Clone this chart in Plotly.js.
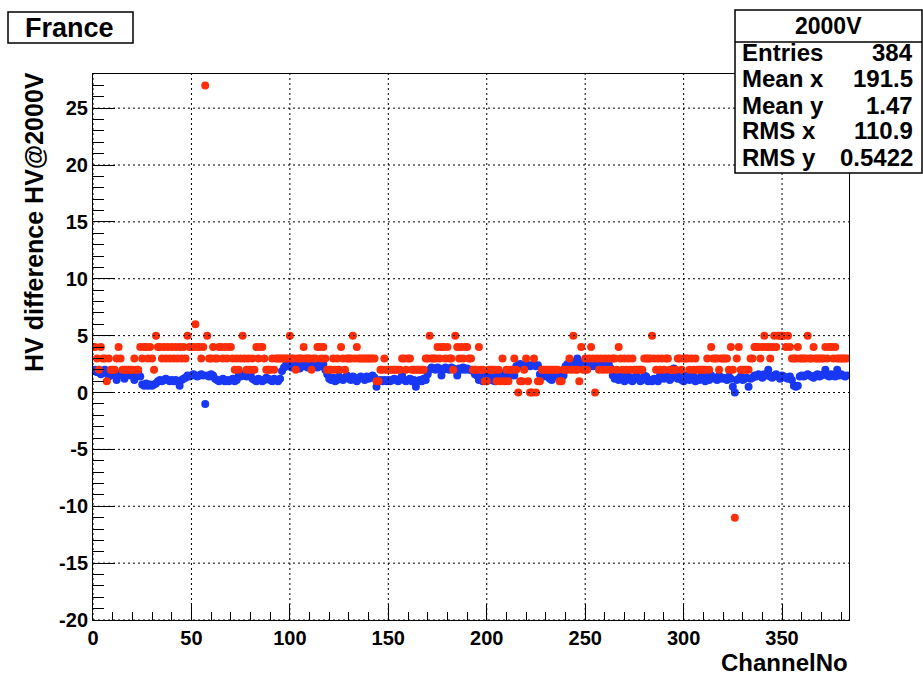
<!DOCTYPE html>
<html><head><meta charset="utf-8">
<script src="https://cdn.plot.ly/plotly-3.0.1.min.js"></script>
<style>html,body{margin:0;padding:0;background:#fff;} #chart{width:923px;height:677px;}</style>
</head><body><div id="chart"></div>
<script>
// HV difference (red series, integer steps) per channel
const redValues = [
4,4,3,2,4,3,3,1,3,2,
2,2,3,4,3,2,2,2,2,2,
2,3,2,2,4,3,4,4,3,4,
3,2,5,4,4,3,4,3,4,3,
4,3,4,3,4,3,4,3,5,4,
4,4,6,4,4,3,4,27,5,3,
3,4,3,3,4,4,3,4,3,4,
4,3,2,3,2,3,5,3,2,3,
2,3,2,4,3,4,4,3,2,2,
2,3,2,3,3,3,3,3,3,3,
5,3,3,2,3,3,3,4,3,3,
3,2,3,3,4,4,3,4,3,2,
2,2,3,2,3,2,4,3,2,3,
3,3,5,3,4,3,3,3,3,3,
3,3,3,3,1,1,2,2,3,2,
2,2,2,2,2,2,2,3,3,2,
3,3,2,2,2,2,2,2,2,3,
3,5,3,3,3,4,3,4,4,3,
4,3,3,2,5,4,3,4,3,4,
4,3,3,2,2,2,4,2,2,1,
1,2,2,2,2,1,2,1,3,1,
2,1,2,2,3,2,0,1,1,2,
3,1,0,0,3,0,1,1,2,2,
2,2,2,2,2,2,2,1,1,2,
2,2,3,2,5,2,2,1,4,2,
3,2,3,4,3,0,3,2,3,2,
3,2,3,2,3,3,2,4,3,2,
3,2,3,2,3,2,2,2,2,2,
3,3,3,3,5,3,2,3,2,3,
2,3,3,2,2,2,2,3,3,2,
3,3,3,2,3,2,3,2,2,2,
2,2,3,2,4,3,3,3,2,3,
3,3,3,2,4,2,-11,3,4,2,
2,2,2,2,3,3,4,4,4,3,
4,5,4,4,3,4,5,4,5,5,
5,5,4,5,4,3,3,3,4,3,
3,3,3,5,3,3,4,3,3,3,
3,3,4,3,4,4,3,4,3,3,
3,3,3,3
];
// HV difference (blue series) per channel
const blueValues = [
1.9,2.0,1.8,2.0,1.6,1.9,2.0,1.7,1.4,1.6,
1.7,1.5,1.1,1.6,1.7,1.5,1.2,1.6,1.7,1.5,
1.6,1.1,1.5,1.6,1.4,0.7,0.6,0.8,0.6,0.7,
0.6,0.7,0.8,1.0,1.1,1.0,1.1,1.2,1.1,1.0,
1.1,1.0,1.1,1.0,0.6,1.1,1.2,1.3,1.5,1.4,
1.5,1.6,1.5,1.4,1.5,1.6,1.5,-1.0,1.5,1.4,
1.6,1.5,1.2,1.1,1.0,1.1,1.2,1.0,1.1,1.0,
1.1,1.2,1.0,1.1,1.5,1.4,1.6,1.5,1.4,1.5,
1.6,1.2,1.1,1.0,1.2,1.1,1.0,1.1,1.3,1.2,
1.1,1.0,1.2,1.1,1.0,1.2,1.9,2.2,2.4,2.3,
2.5,2.2,2.4,2.3,2.5,2.1,2.4,2.3,2.5,2.2,
2.4,2.3,2.5,2.6,2.2,2.4,2.3,2.5,2.0,1.6,
1.2,1.1,1.3,1.0,1.1,1.4,1.2,1.1,1.3,1.5,
1.2,1.1,1.4,1.3,1.0,1.2,1.4,1.3,1.1,1.4,
1.2,1.3,1.5,1.3,0.5,1.0,1.1,1.0,1.1,1.0,
1.1,1.0,1.1,1.2,1.1,1.0,1.2,1.5,1.1,1.0,
1.1,1.2,1.0,1.1,0.5,1.0,1.1,1.0,1.2,1.1,
1.6,2.0,2.2,2.1,2.0,2.2,2.1,1.5,2.0,2.2,
2.1,2.0,2.2,2.1,2.0,1.5,2.1,2.0,2.2,2.0,
2.1,2.0,2.0,1.9,1.6,1.5,1.1,1.3,1.0,1.5,
1.7,1.4,1.1,1.3,1.0,1.5,1.6,1.2,1.4,1.7,
1.5,1.3,1.6,1.7,1.5,2.3,2.4,2.5,2.3,2.4,
2.5,2.4,2.3,2.4,2.5,2.3,2.4,1.6,1.5,1.4,
1.5,1.6,1.2,1.1,1.5,1.4,1.6,1.5,1.2,1.5,
2.3,2.5,2.4,2.2,2.6,2.7,3.0,2.5,2.6,2.4,
2.3,2.5,2.6,2.4,2.3,2.6,2.7,2.6,2.5,2.6,
2.7,2.6,2.5,2.1,1.5,1.2,1.4,1.1,1.3,1.5,
1.0,1.2,1.4,1.1,1.0,1.3,1.5,1.2,1.0,1.1,
1.5,1.4,1.0,1.1,1.0,1.2,1.1,1.0,1.5,1.3,
1.2,1.5,1.4,1.1,1.3,2.1,1.5,1.2,1.4,1.1,
1.0,1.5,1.3,1.1,1.5,1.4,1.0,1.2,1.1,1.5,
1.3,1.0,1.4,1.1,1.5,1.3,1.2,1.1,1.5,1.2,
1.3,1.2,1.1,1.4,1.2,0.5,0.0,1.1,1.2,1.4,
1.1,1.2,1.3,0.5,1.2,1.3,1.5,1.4,1.6,1.5,
1.3,1.6,1.5,2.0,1.4,1.3,1.5,1.6,1.4,1.2,
1.5,1.4,1.3,1.2,1.4,1.1,0.6,0.5,0.6,1.4,
1.5,1.4,1.5,1.6,1.5,1.4,1.3,1.5,1.6,1.4,
1.5,1.6,2.0,1.5,1.4,1.6,1.5,1.4,2.0,1.5,
1.6,1.5,1.4,1.5
];
const channels = redValues.map((_, i) => i);
const xTicks = [0, 50, 100, 150, 200, 250, 300, 350];
const yTicks = [-20, -15, -10, -5, 0, 5, 10, 15, 20, 25];
const statLabels = ["Entries", "Mean x", "Mean y", "RMS x", "RMS y"];
const statValues = ["384", "191.5", "1.47", "110.9", "0.5422"];
const statTitle = "2000V";
const chartTitle = "France";
const xTitle = "ChannelNo";
const yTitle = "HV difference HV@2000V";

const W = 923, H = 677, L = 93, R = 849, T = 74, B = 620;
const px = v => (v - L) / (R - L);
const py = v => (B - v) / (B - T);
const FONT = "Liberation Sans, Arial, Helvetica, sans-serif";
const tf = (s) => ({family: FONT, size: s, color: "black", weight: "bold"});

const traces = [
  {x: channels, y: blueValues, type: "scatter", mode: "markers",
   marker: {color: "#1838f5", size: 8, line: {width: 0}}, hoverinfo: "x+y", showlegend: false},
  {x: channels, y: redValues, type: "scatter", mode: "markers",
   marker: {color: "#ff2e08", size: 8, line: {width: 0}}, hoverinfo: "x+y", showlegend: false}
];

const shapes = [];
xTicks.forEach(t => shapes.push({type: "line", xref: "x", yref: "paper", x0: t, x1: t, y0: 0, y1: 1,
  line: {color: "black", width: 1, dash: "2px,3px"}, layer: "above"}));
yTicks.forEach(t => shapes.push({type: "line", xref: "paper", yref: "y", x0: 0, x1: 1, y0: t, y1: t,
  line: {color: "black", width: 1, dash: "2px,3px"}, layer: "above"}));
shapes.push({type: "rect", xref: "paper", yref: "paper", x0: px(8), x1: px(133), y0: py(43), y1: py(12),
  line: {color: "black", width: 1.5}, fillcolor: "white", layer: "above"});
shapes.push({type: "rect", xref: "paper", yref: "paper", x0: px(735), x1: px(922), y0: py(173), y1: py(10),
  line: {color: "black", width: 1.5}, fillcolor: "white", layer: "above"});
shapes.push({type: "line", xref: "paper", yref: "paper", x0: px(735), x1: px(922), y0: py(42), y1: py(42),
  line: {color: "black", width: 1.5}, layer: "above"});

const annotations = [
  {text: chartTitle, xref: "paper", yref: "paper", x: px(69), y: py(28), xanchor: "center", yanchor: "middle",
   showarrow: false, font: tf(27)},
  {text: statTitle, xref: "paper", yref: "paper", x: px(828), y: py(26), xanchor: "center", yanchor: "middle",
   showarrow: false, font: tf(23)},
  {text: xTitle, xref: "paper", yref: "paper", x: 1, y: py(662), xanchor: "right", yanchor: "middle",
   showarrow: false, font: tf(24), borderpad: 0},
  {text: yTitle, xref: "paper", yref: "paper", x: px(34), y: py(70), xanchor: "center", yanchor: "top",
   textangle: -90, showarrow: false, font: tf(25)}
];
const rowY = [53, 79, 105, 131, 157];
statLabels.forEach((s, i) => {
  annotations.push({text: s, xref: "paper", yref: "paper", x: px(740), y: py(rowY[i]), xanchor: "left", yanchor: "middle",
    showarrow: false, font: tf(24)});
  annotations.push({text: statValues[i], xref: "paper", yref: "paper", x: px(915), y: py(rowY[i]), xanchor: "right", yanchor: "middle",
    showarrow: false, font: tf(24)});
});

const axisCommon = {
  ticks: "inside", tickcolor: "black", tickwidth: 1, showgrid: false, zeroline: false,
  showline: true, linecolor: "black", linewidth: 1, mirror: true, layer: "above traces",
  tickfont: tf(20), fixedrange: true
};
const layout = {
  width: W, height: H,
  margin: {l: L, r: W - R, t: T, b: H - B, pad: 0},
  paper_bgcolor: "white", plot_bgcolor: "white",
  showlegend: false,
  xaxis: Object.assign({}, axisCommon, {range: [0, 384], tickmode: "array", tickvals: xTicks, ticktext: xTicks.map(String),
    ticklen: 16, minor: {ticks: "inside", dtick: 10, tick0: 0, ticklen: 8, tickcolor: "black", tickwidth: 1, showgrid: false}}),
  yaxis: Object.assign({}, axisCommon, {range: [-20, 28], tickmode: "array", tickvals: yTicks, ticktext: yTicks.map(String),
    ticklen: 22, minor: {ticks: "inside", dtick: 1, tick0: 0, ticklen: 11, tickcolor: "black", tickwidth: 1, showgrid: false}}),
  shapes: shapes,
  annotations: annotations
};
Plotly.newPlot("chart", traces, layout, {displayModeBar: false, staticPlot: true});
</script></body></html>
